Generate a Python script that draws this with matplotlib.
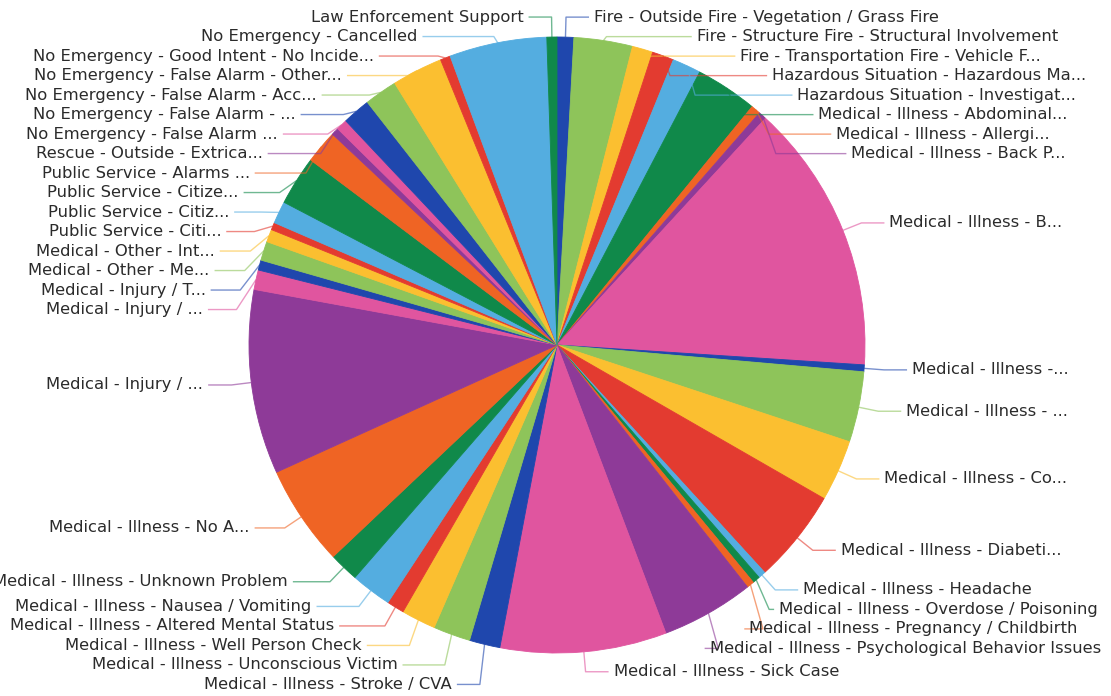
"""Pie of incident call types with ECharts-like outside labels and leader lines."""
import numpy as np
import matplotlib.pyplot as plt

# slice order is clockwise from 12 o'clock
labels = [
    "Fire - Outside Fire - Vegetation / Grass Fire",
    "Fire - Structure Fire - Structural Involvement",
    "Fire - Transportation Fire - Vehicle F...",
    "Hazardous Situation - Hazardous Ma...",
    "Hazardous Situation - Investigat...",
    "Medical - Illness - Abdominal...",
    "Medical - Illness - Allergi...",
    "Medical - Illness - Back P...",
    "Medical - Illness - B...",
    "Medical - Illness -...",
    "Medical - Illness - ...",
    "Medical - Illness - Co...",
    "Medical - Illness - Diabeti...",
    "Medical - Illness - Headache",
    "Medical - Illness - Overdose / Poisoning",
    "Medical - Illness - Pregnancy / Childbirth",
    "Medical - Illness - Psychological Behavior Issues",
    "Medical - Illness - Sick Case",
    "Medical - Illness - Stroke / CVA",
    "Medical - Illness - Unconscious Victim",
    "Medical - Illness - Well Person Check",
    "Medical - Illness - Altered Mental Status",
    "Medical - Illness - Nausea / Vomiting",
    "Medical - Illness - Unknown Problem",
    "Medical - Illness - No A...",
    "Medical - Injury / ...",
    "Medical - Injury / ...",
    "Medical - Injury / T...",
    "Medical - Other - Me...",
    "Medical - Other - Int...",
    "Public Service - Citi...",
    "Public Service - Citiz...",
    "Public Service - Citize...",
    "Public Service - Alarms ...",
    "Rescue - Outside - Extrica...",
    "No Emergency - False Alarm ...",
    "No Emergency - False Alarm - ...",
    "No Emergency - False Alarm - Acc...",
    "No Emergency - False Alarm - Other...",
    "No Emergency - Good Intent - No Incide...",
    "No Emergency - Cancelled",
    "Law Enforcement Support",
]

calls = [
    3.15, 11.05, 3.9, 4.1, 5.4, 11.7, 1.8, 1.5, 51.1, 1.3,
    13.3, 11.6, 17.7, 1.4, 1.4, 1.4, 17.5, 31.4, 5.8, 7.0,
    6.5, 3.3, 7.7, 5.6, 19.0, 34.8, 3.7, 1.9, 3.6, 2.4,
    1.4, 4.2, 9.3, 6.3, 1.4, 2.1, 5.3, 6.2, 9.6, 1.9,
    18.4, 1.9,
]

palette = ['#1f47ad', '#8ec45a', '#fbbf30', '#e33b30', '#54ade0',
           '#10894a', '#ef6424', '#8e3a98', '#e0559f']

WIDTH, HEIGHT = 1111, 696
CX, CY, RADIUS = 557, 345, 308      # pixels, y measured from the top
LINE_LEN = 20
LINE_LEN2 = 23
TEXT_GAP = 5
ROW = 19.5


def layout_labels(mid):
    """Place labels outside the pie, stacking the ones that would overlap."""
    rad = np.radians(mid)
    r_a = RADIUS + LINE_LEN
    elbow_x = CX + r_a * np.sin(rad)
    text_y = CY - r_a * np.cos(rad)
    side = np.where(np.sin(rad) >= 0, 1, -1)
    text_x = elbow_x + side * (LINE_LEN2 + TEXT_GAP)

    for s in (1, -1):
        idx = sorted(np.flatnonzero(side == s), key=lambda i: text_y[i])
        last = -np.inf
        shifted = False
        for i in idx:
            if text_y[i] < last + ROW:
                text_y[i] = last + ROW
                shifted = True
            last = text_y[i]
        if not shifted:
            continue
        # put the labels of each half on an ellipse through the farthest one
        for upper in (True, False):
            semi = [i for i in idx if (text_y[i] < CY) == upper]
            if not semi:
                continue
            far = max(semi, key=lambda i: abs(text_y[i] - CY))
            dy = abs(text_y[far] - CY)
            dx = abs(elbow_x[far] - CX)
            r_b = dy / np.sqrt(1 - (dx / r_a) ** 2) if dx < r_a else r_a
            for i in semi:
                dy = abs(text_y[i] - CY)
                dx = r_a * np.sqrt(max(0.0, 1 - dy ** 2 / r_b ** 2))
                text_x[i] = CX + s * (dx + LINE_LEN2 + TEXT_GAP)
    return text_x, text_y, elbow_x, side


values = np.array(calls)
colors = [palette[i % len(palette)] for i in range(len(values))]
mid = 360 * (np.cumsum(values) - values / 2) / values.sum()

fig = plt.figure(figsize=(WIDTH / 100, HEIGHT / 100), dpi=100)
ax = fig.add_axes([0, 0, 1, 1])
wedges, _ = ax.pie(values, colors=colors, startangle=90, counterclock=False,
                   center=(CX, HEIGHT - CY), radius=RADIUS,
                   wedgeprops={'linewidth': 0.6})
for w in wedges:
    w.set_edgecolor(w.get_facecolor())

text_x, text_y, elbow_x, side = layout_labels(mid)
rad = np.radians(mid)
for i, lab in enumerate(labels):
    x1 = CX + RADIUS * np.sin(rad[i])
    y1 = CY - RADIUS * np.cos(rad[i])
    x3 = text_x[i] - side[i] * TEXT_GAP
    ax.plot([x1, elbow_x[i], x3],
            [HEIGHT - y1, HEIGHT - text_y[i], HEIGHT - text_y[i]],
            color=colors[i], lw=1, alpha=0.6, solid_capstyle='butt')
    ax.text(text_x[i], HEIGHT - text_y[i], lab,
            ha='left' if side[i] > 0 else 'right', va='center',
            fontsize=11.8, color='#2b2b2b', family='DejaVu Sans')

ax.set_xlim(0, WIDTH)
ax.set_ylim(0, HEIGHT)
ax.set_aspect('auto')
ax.axis('off')
fig.savefig('out.png', dpi=100)
